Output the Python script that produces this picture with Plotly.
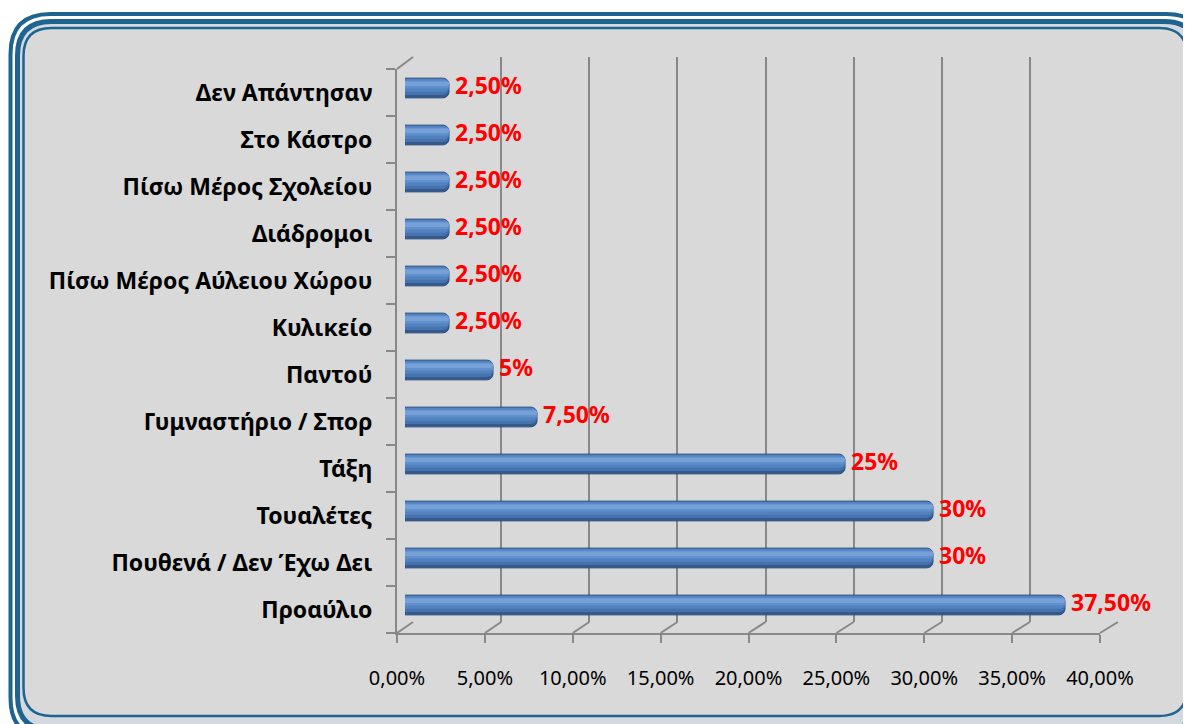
import plotly.graph_objects as go

# screen size and the page's default body margin
SCREEN_W, SCREEN_H = 1191, 724
BODY = 8
W, H = SCREEN_W - BODY, SCREEN_H - BODY

# categories listed bottom -> top
places = [
    "Προαύλιο",
    "Πουθενά / Δεν Έχω Δει",
    "Τουαλέτες",
    "Τάξη",
    "Γυμναστήριο / Σπορ",
    "Παντού",
    "Κυλικείο",
    "Πίσω Μέρος Αύλειου Χώρου",
    "Διάδρομοι",
    "Πίσω Μέρος Σχολείου",
    "Στο Κάστρο",
    "Δεν Απάντησαν",
]
shares = [0.375, 0.30, 0.30, 0.25, 0.075, 0.05, 0.025, 0.025, 0.025, 0.025, 0.025, 0.025]
share_labels = ["37,50%", "30%", "30%", "25%", "7,50%", "5%",
                "2,50%", "2,50%", "2,50%", "2,50%", "2,50%", "2,50%"]
x_ticks = [0, 0.05, 0.10, 0.15, 0.20, 0.25, 0.30, 0.35, 0.40]

GRID = "#888888"
BLUE_FRAME = "#1f6391"
FONT = "Noto Sans"


def fx(p):
    # screen pixel -> paper fraction
    return (p - BODY) / W


def fy(p):
    return 1 - (p - BODY) / H


def rounded_rect(x0, y0, x1, y1, r):
    pts = [
        f"M {fx(x0 + r)} {fy(y0)}",
        f"L {fx(x1 - r)} {fy(y0)}",
        f"Q {fx(x1)} {fy(y0)} {fx(x1)} {fy(y0 + r)}",
        f"L {fx(x1)} {fy(y1 - r)}",
        f"Q {fx(x1)} {fy(y1)} {fx(x1 - r)} {fy(y1)}",
        f"L {fx(x0 + r)} {fy(y1)}",
        f"Q {fx(x0)} {fy(y1)} {fx(x0)} {fy(y1 - r)}",
        f"L {fx(x0)} {fy(y0 + r)}",
        f"Q {fx(x0)} {fy(y0)} {fx(x0 + r)} {fy(y0)}",
        "Z",
    ]
    return " ".join(pts)


# depth planes of the 3D chart (pixels): back wall, bar plane, front edge
BACK = (413, 1118)
MID = (405, 1109)
FRONT = (397, 1100)

fig = go.Figure()

# invisible trace so the back-wall subplot is drawn first
fig.add_trace(go.Scatter(x=[0], y=[0], mode="markers", marker=dict(opacity=0),
                         hoverinfo="skip", showlegend=False, xaxis="x", yaxis="y"))

# cylinder: stacked bands from dark bottom to light top
bands = [
    (-0.21, 0.42, "#34598c", 6),
    (-0.15, 0.35, "#4672ad", 6),
    (-0.08, 0.27, "#5183c1", 5),
    (-0.01, 0.17, "#6190cd", 4),
    (0.04, 0.10, "#76a0d8", 3),
]
for i, (off, wid, col, rad) in enumerate(bands):
    fig.add_trace(go.Bar(
        x=shares, y=places, orientation="h", width=wid, offset=off,
        marker=dict(color=col, line=dict(color="#2a4c7d", width=1 if i == 0 else 0),
                    cornerradius=rad),
        showlegend=False, hoverinfo="skip", xaxis="x2", yaxis="y2",
    ))

# value labels
fig.add_trace(go.Scatter(
    x=shares, y=places, mode="text", text=["\u00a0" + s for s in share_labels],
    textposition="middle right", cliponaxis=False,
    textfont=dict(family=FONT, size=23, color="#ff0000", weight="bold"),
    showlegend=False, hoverinfo="skip", xaxis="x2", yaxis="y2",
))

# front axes
fig.add_trace(go.Scatter(x=[0], y=[0], mode="markers", marker=dict(opacity=0),
                         hoverinfo="skip", showlegend=False, xaxis="x3", yaxis="y3"))

shapes = [
    dict(type="path", xref="paper", yref="paper", layer="below",
         path=rounded_rect(10.5, 14, 1206, 738, 40),
         line=dict(color=BLUE_FRAME, width=4), fillcolor="#ffffff"),
    dict(type="path", xref="paper", yref="paper", layer="below",
         path=rounded_rect(17.5, 21.5, 1198, 730, 34),
         line=dict(color=BLUE_FRAME, width=5), fillcolor="#d3d9df"),
    dict(type="path", xref="paper", yref="paper", layer="below",
         path=rounded_rect(23.5, 28, 1187, 716, 28),
         line=dict(color=BLUE_FRAME, width=2.5), fillcolor="#d9d9d9"),
]

# floor diagonals linking back wall to front edge
for v in x_ticks:
    bx = BACK[0] + v / 0.4 * (BACK[1] - BACK[0])
    fxp = FRONT[0] + v / 0.4 * (FRONT[1] - FRONT[0])
    shapes.append(dict(type="line", xref="paper", yref="paper",
                       x0=fx(bx), y0=fy(622), x1=fx(fxp), y1=fy(633),
                       line=dict(color=GRID, width=2)))
# top-left wall corner
shapes.append(dict(type="line", xref="paper", yref="paper",
                   x0=fx(BACK[0]), y0=fy(57), x1=fx(FRONT[0]), y1=fy(69),
                   line=dict(color=GRID, width=2)))

n = len(places)

fig.update_layout(
    template="none",
    width=W, height=H,
    margin=dict(l=0, r=0, t=0, b=0, pad=0),
    paper_bgcolor="#ffffff",
    plot_bgcolor="rgba(0,0,0,0)",
    barmode="overlay",
    separators=",.",
    font=dict(family=FONT, color="#000000"),
    shapes=shapes,
    # back wall grid
    xaxis=dict(domain=[fx(BACK[0]), fx(BACK[1])], range=[0, 0.4], anchor="y",
               tickvals=x_ticks, showticklabels=False, ticks="",
               showgrid=True, gridcolor=GRID, gridwidth=2, zeroline=False,
               showline=False, automargin=False, fixedrange=True),
    yaxis=dict(domain=[fy(622), fy(57)], range=[0, 1], anchor="x",
               visible=False, showgrid=False, automargin=False, fixedrange=True),
    # bar plane
    xaxis2=dict(domain=[fx(MID[0]), fx(MID[1])], range=[0, 0.4], anchor="y2",
                visible=False, showgrid=False, automargin=False, fixedrange=True),
    yaxis2=dict(domain=[fy(628.5), fy(64.5)], anchor="x2", type="category",
                categoryorder="array", categoryarray=places,
                range=[-0.5, n - 0.5], visible=False,
                showgrid=False, automargin=False, fixedrange=True),
    # front edge
    xaxis3=dict(domain=[fx(FRONT[0]), fx(FRONT[1])], range=[0, 0.4], anchor="y3",
                tickvals=x_ticks, tickformat=".2%", ticks="outside", ticklen=8,
                tickwidth=2, tickcolor=GRID, showline=True, linecolor=GRID,
                linewidth=2, showgrid=False, zeroline=False, ticklabelstandoff=18,
                tickfont=dict(family=FONT, size=20, color="#000000"),
                automargin=False, fixedrange=True),
    yaxis3=dict(domain=[fy(633), fy(69)], range=[0, n], anchor="x3",
                tickvals=[i + 0.5 for i in range(n)], ticktext=places,
                ticks="", ticklen=0, ticklabelstandoff=18,
                tickfont=dict(family=FONT, size=23, color="#000000", weight="bold"),
                minor=dict(tickvals=list(range(n + 1)), ticks="outside", ticklen=9,
                           tickwidth=2, tickcolor=GRID, showgrid=False),
                showline=True, linecolor=GRID, linewidth=2,
                showgrid=False, zeroline=False, automargin=False, fixedrange=True),
)

fig.write_html("out.html")
